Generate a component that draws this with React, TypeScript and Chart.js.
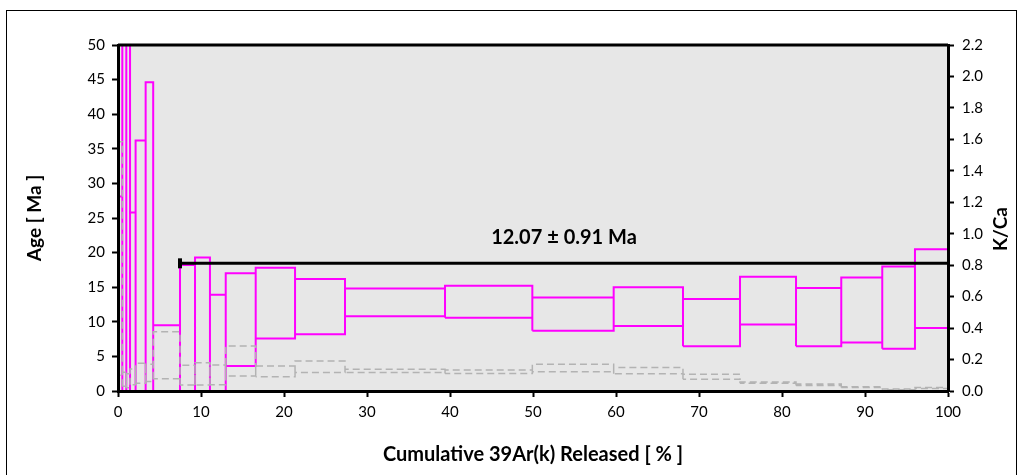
import React, { useEffect, useRef } from 'react';
import { Chart, registerables } from 'chart.js';

Chart.register(...registerables);

// Cumulative 39Ar(k) released (%) at the edges of each heating step
const stepEdges = [0, 0.52, 1.0, 1.45, 2.12, 3.33, 4.24, 7.47, 9.28, 11.08, 12.98, 16.59, 21.33, 27.35, 39.4, 49.92, 59.72, 68.07, 74.94, 81.69, 87.14, 92.08, 96.02, 100];

// Apparent age envelope per step (Ma)
const ageHigh = [28.1, 72, 95, 25.8, 36.2, 44.6, 9.5, 18.2, 19.3, 13.9, 17.0, 17.8, 16.2, 14.8, 15.2, 13.5, 15.0, 13.3, 16.5, 14.9, 16.4, 18.0, 20.5];
const ageLow = [-30, -40, -60, -20, -15, -10, -4, -6, -3, -5, 3.6, 7.6, 8.2, 10.8, 10.6, 8.7, 9.4, 6.45, 9.6, 6.45, 7.0, 6.1, 9.1];

// K/Ca envelope per step
const kcaHigh = [1.585, 0.12, 0.11, 0.14, 0.176, 0.17, 0.377, 0.163, 0.18, 0.165, 0.286, 0.159, 0.19, 0.138, 0.133, 0.17, 0.15, 0.106, 0.057, 0.045, 0.027, 0.012, 0.022];
const kcaLow = [0.1, 0.03, 0.02, 0.04, 0.05, 0.06, 0.078, 0.038, 0.038, 0.04, 0.095, 0.091, 0.117, 0.117, 0.112, 0.123, 0.11, 0.074, 0.049, 0.035, 0.022, 0.008, 0.016];

// Plateau: steps from plateauStart to plateauEnd, bar drawn at plateauBarLevel
const plateauAge = 12.07;
const plateauErr = 0.91;
const plateauStart = 7.47;
const plateauEnd = 100;
const plateauBarLevel = 18.45;

const FONT = 'Lato, "Open Sans", sans-serif';

type Pt = { x: number; y: number | null };

// Outline every step as a closed rectangle; null points split the rectangles
function stepBoxes(low: number[], high: number[]): Pt[] {
  const pts: Pt[] = [];
  for (let i = 0; i < high.length; i++) {
    const x0 = stepEdges[i];
    const x1 = stepEdges[i + 1];
    pts.push(
      { x: x0, y: low[i] },
      { x: x0, y: high[i] },
      { x: x1, y: high[i] },
      { x: x1, y: low[i] },
      { x: x0, y: low[i] },
      { x: x1, y: null }
    );
  }
  return pts;
}

const decorations = {
  id: 'spectrumDecor',
  beforeDraw(chart: any) {
    const { ctx, chartArea: a, width, height } = chart;
    ctx.save();
    ctx.fillStyle = '#ffffff';
    ctx.fillRect(0, 0, width, height);
    ctx.strokeStyle = '#000000';
    ctx.lineWidth = 1;
    ctx.strokeRect(6.5, 10.5, 1010, 520);
    ctx.fillStyle = '#e7e7e7';
    ctx.fillRect(a.left, a.top, a.right - a.left, a.bottom - a.top);
    ctx.restore();
  },
  afterDatasetsDraw(chart: any) {
    const { ctx, chartArea: a, scales } = chart;
    ctx.save();
    ctx.strokeStyle = '#000000';
    ctx.lineWidth = 3;
    ctx.beginPath();
    ctx.moveTo(a.left, a.top);
    ctx.lineTo(a.right, a.top);
    ctx.stroke();

    // plateau age label
    const cx = scales.x.getPixelForValue((plateauStart + plateauEnd) / 2);
    const cy = scales.y.getPixelForValue(plateauBarLevel) - 26;
    ctx.fillStyle = '#000000';
    ctx.font = `bold 20px ${FONT}`;
    ctx.textAlign = 'center';
    ctx.textBaseline = 'middle';
    ctx.fillText(`${plateauAge.toFixed(2)} ± ${plateauErr.toFixed(2)} Ma`, cx, cy);

    // right axis title, reading bottom to top
    ctx.font = `bold 19px ${FONT}`;
    ctx.translate(1001, 229);
    ctx.rotate(-Math.PI / 2);
    ctx.fillText('K/Ca', 0, 0);
    ctx.restore();
  },
};

const tickGrid = {
  drawOnChartArea: false,
  tickLength: 6,
  tickWidth: 2,
  tickColor: '#000000',
};
const axisBorder = { color: '#000000', width: 3, z: 1 };
const tickFont = { family: FONT, size: 15 };

export default function App() {
  const ref = useRef<HTMLCanvasElement | null>(null);

  useEffect(() => {
    if (!ref.current) return;
    const chart = new Chart(ref.current, {
      type: 'line',
      data: {
        datasets: [
          {
            label: 'Plateau',
            data: [
              { x: plateauStart, y: plateauBarLevel },
              { x: plateauEnd, y: plateauBarLevel },
            ],
            borderColor: '#000000',
            borderWidth: 3,
            pointStyle: 'line',
            rotation: 90,
            pointRadius: [5, 0],
            pointBorderWidth: 4,
            pointBorderColor: '#000000',
            yAxisID: 'y',
          },
          {
            label: 'K/Ca',
            data: stepBoxes(kcaLow, kcaHigh),
            borderColor: '#b3b3b3',
            borderWidth: 1.5,
            borderDash: [7, 4],
            pointRadius: 0,
            spanGaps: false,
            yAxisID: 'y2',
          },
          {
            label: 'Age',
            data: stepBoxes(ageLow, ageHigh),
            borderColor: '#ff00ff',
            borderWidth: 2,
            pointRadius: 0,
            spanGaps: false,
            yAxisID: 'y',
          },
        ],
      },
      options: {
        animation: false,
        responsive: false,
        events: [],
        layout: { padding: { top: 45, left: 0, right: 0, bottom: 0 } },
        plugins: { legend: { display: false }, tooltip: { enabled: false } },
        scales: {
          x: {
            type: 'linear',
            min: 0,
            max: 100,
            ticks: { stepSize: 10, color: '#000000', font: tickFont, padding: 6 },
            grid: tickGrid,
            border: axisBorder,
            title: {
              display: true,
              text: 'Cumulative 39Ar(k) Released [ % ]',
              color: '#000000',
              font: { family: FONT, size: 20, weight: 'bold' },
              padding: { top: 0, bottom: 8 },
            },
            afterFit: (s: any) => {
              s.height = 84;
            },
          },
          y: {
            type: 'linear',
            position: 'left',
            min: 0,
            max: 50,
            ticks: { stepSize: 5, color: '#000000', font: tickFont, padding: 7 },
            grid: tickGrid,
            border: axisBorder,
            title: {
              display: true,
              text: 'Age [ Ma ]',
              color: '#000000',
              font: { family: FONT, size: 19, weight: 'bold' },
              padding: { top: 23, bottom: 0 },
            },
            afterFit: (s: any) => {
              s.width = 118;
            },
          },
          y2: {
            type: 'linear',
            position: 'right',
            min: 0,
            max: 2.2,
            ticks: {
              stepSize: 0.2,
              color: '#000000',
              font: tickFont,
              padding: 8,
              callback: (v: any) => Number(v).toFixed(1),
            },
            grid: tickGrid,
            border: axisBorder,
            afterFit: (s: any) => {
              s.width = 72;
            },
          },
        },
      },
      plugins: [decorations],
    } as any);
    return () => chart.destroy();
  }, []);

  return (
    <div style={{ position: 'absolute', left: 0, top: 0, width: 1020, height: 475, background: '#fff' }}>
      <canvas ref={ref} width={1020} height={475} style={{ display: 'block' }} />
    </div>
  );
}
